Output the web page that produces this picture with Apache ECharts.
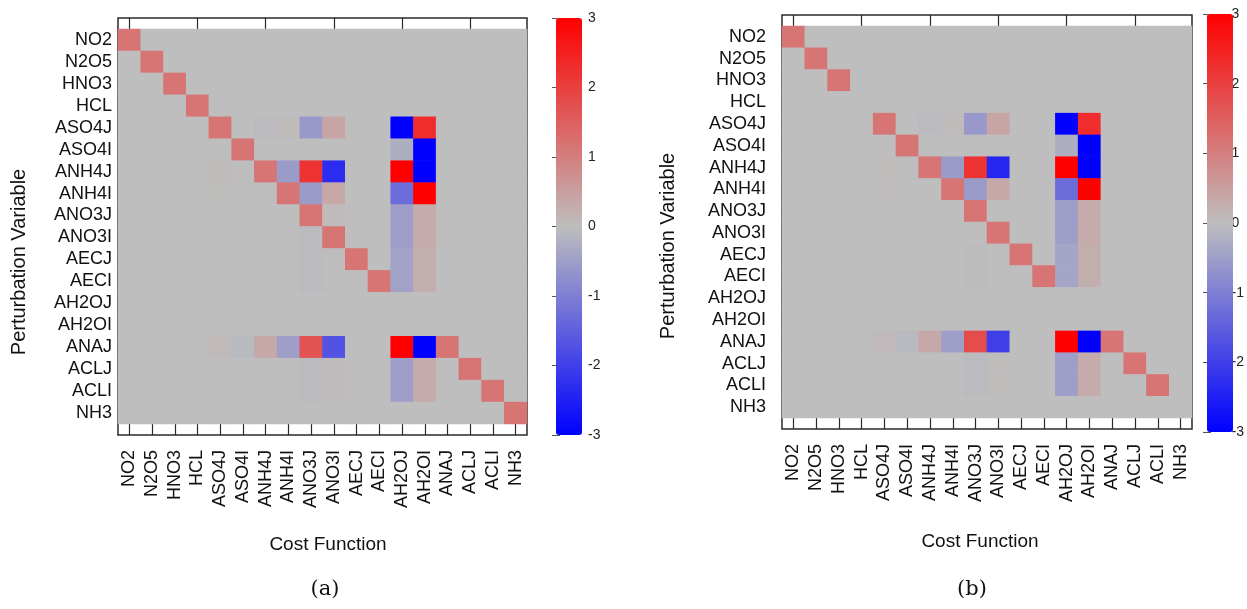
<!DOCTYPE html>
<html><head><meta charset="utf-8">
<script src="https://cdn.jsdelivr.net/npm/echarts@6/dist/echarts.min.js"></script>
<style>html,body{margin:0;padding:0;background:#fff;} #c{width:1247px;height:609px;}</style>
</head><body><div id="c"></div>
<script>
// Cost-function (x) and perturbation-variable (y) species, same list
const species = ['NO2','N2O5','HNO3','HCL','ASO4J','ASO4I','ANH4J','ANH4I','ANO3J','ANO3I','AECJ','AECI','AH2OJ','AH2OI','ANAJ','ACLJ','ACLI','NH3'];
const colorbarTicks = [-3, -2, -1, 0, 1, 2, 3];

// Panel (a): rows = perturbation variable, columns = cost function
const sensitivityA = [
 [1.15,0,0,0,0,0,0,0,0,0,0,0,0,0,0,0,0,0],
 [0,1.15,0,0,0,0,0,0,0,0,0,0,0,0,0,0,0,0],
 [0,0,1.15,0,0,0,0,0,0,0,0,0,0,0,0,0,0,0],
 [0,0,0,1.15,0,0,0,0,0,0,0,0,0,0,0,0,0,0],
 [0,0,0,0,1.15,0,-0.05,0.05,-0.6,0.4,0,0,-3,2.3,0,0,0,0],
 [0,0,0,0,0,1.15,0,0,0,0,0,0,-0.25,-3,0,0,0,0],
 [0,0,0,0,0.04,0.02,1.15,-0.55,2.2,-2.3,0,0,3,-3,0,0,0,0],
 [0,0,0,0,0.03,-0.02,-0.02,1.15,-0.55,0.35,0,0,-1.3,3,0,0,0,0],
 [0,0,0,0,0,0,0,0,1.15,0.04,0,0,-0.5,0.3,0,0,0,0],
 [0,0,0,0,0,0,0,0,-0.04,1.15,0,0,-0.5,0.3,0,0,0,0],
 [0,0,0,0,0,0,0,0,-0.04,0.03,1.15,0,-0.45,0.25,0,0,0,0],
 [0,0,0,0,0,0,0,0,-0.04,0.03,0,1.15,-0.45,0.25,0,0,0,0],
 [0,0,0,0,0,0,0,0,0,0,0,0,0,0,0,0,0,0],
 [0,0,0,0,0,0,0,0,0,0,0,0,0,0,0,0,0,0],
 [0,0,0,0,0.08,-0.08,0.35,-0.5,1.7,-1.7,0,0,3,-3,1.15,0,0,0],
 [0,0,0,0,0,0,0,0,-0.05,0.04,0,0,-0.5,0.3,0,1.15,0,0],
 [0,0,0,0,0,0,0,0,-0.05,0.04,0,0,-0.5,0.3,0,0,1.15,0],
 [0,0,0,0,0,0,0,0,0,0,0,0,0,0,0,0,0,1.15]
];

// Panel (b)
const sensitivityB = [
 [1.15,0,0,0,0,0,0,0,0,0,0,0,0,0,0,0,0,0],
 [0,1.15,0,0,0,0,0,0,0,0,0,0,0,0,0,0,0,0],
 [0,0,1.15,0,0,0,0,0,0,0,0,0,0,0,0,0,0,0],
 [0,0,0,0,0,0,0,0,0,0,0,0,0,0,0,0,0,0],
 [0,0,0,0,1.15,0,-0.05,0.05,-0.6,0.4,0,0,-3,2.3,0,0,0,0],
 [0,0,0,0,0,1.15,0,0,0,0,0,0,-0.25,-3,0,0,0,0],
 [0,0,0,0,0.03,0.02,1.15,-0.55,2.2,-2.4,0,0,3,-3,0,0,0,0],
 [0,0,0,0,0.03,0,0,1.15,-0.55,0.35,0,0,-1.3,3,0,0,0,0],
 [0,0,0,0,0,0,0,0,1.15,0,0,0,-0.5,0.3,0,0,0,0],
 [0,0,0,0,0,0,0,0,0,1.15,0,0,-0.5,0.3,0,0,0,0],
 [0,0,0,0,0,0,0,0,-0.03,0,1.15,0,-0.4,0.25,0,0,0,0],
 [0,0,0,0,0,0,0,0,-0.03,0,0,1.15,-0.4,0.25,0,0,0,0],
 [0,0,0,0,0,0,0,0,0,0,0,0,0,0,0,0,0,0],
 [0,0,0,0,0,0,0,0,0,0,0,0,0,0,0,0,0,0],
 [0,0,0,0,0.08,-0.08,0.35,-0.5,1.8,-2.0,0,0,3,-3,1.15,0,0,0],
 [0,0,0,0,0,0,0,0,-0.05,0.03,0,0,-0.5,0.3,0,1.15,0,0],
 [0,0,0,0,0,0,0,0,-0.05,0.03,0,0,-0.5,0.3,0,0,1.15,0],
 [0,0,0,0,0,0,0,0,0,0,0,0,0,0,0,0,0,0]
];

function toCells(m){
  const out = [];
  m.forEach((row, r) => row.forEach((v, c) => out.push([c, r, v])));
  return out;
}

const FONT = 'Liberation Sans';
const INK = '#2a2a2a';
const cmap = ['#0000ff', '#bebebe', '#ff0000'];

const L = {
  a: {frame:{left:118, top:18, width:409, height:417}, heat:{left:118, top:29, width:409, height:395}, bar:{left:556, top:18, width:26, height:417}, ylabMargin:6},
  b: {frame:{left:782, top:15, width:410, height:414}, heat:{left:782, top:26, width:410, height:392}, bar:{left:1207, top:14, width:26, height:418}, ylabMargin:16}
};

const grid = [], xAxis = [], yAxis = [], series = [], visualMap = [];
['a','b'].forEach((k, p) => {
  const g = L[k];
  const gf = grid.length;
  grid.push(Object.assign({show:true, backgroundColor:'#fff', borderColor:INK, borderWidth:1.5}, g.frame));
  const gh = grid.length;
  grid.push(Object.assign({show:true, backgroundColor:'#bebebe', borderWidth:0}, g.heat));
  const gb = grid.length;
  grid.push(Object.assign({}, g.bar));

  // frame axes (ticks at top and bottom, labels at bottom)
  xAxis.push({gridIndex:gf, type:'category', data:species, position:'bottom',
    axisLine:{show:false}, axisTick:{show:true, inside:true, alignWithLabel:true, length:11, lineStyle:{color:INK, width:1.2}},
    axisLabel:{rotate:90, margin:15, fontFamily:FONT, fontSize:18, color:'#111', interval:0}});
  xAxis.push({gridIndex:gf, type:'category', data:species, position:'top',
    axisLine:{show:false}, axisTick:{show:true, inside:true, alignWithLabel:true, length:11, lineStyle:{color:INK, width:1.2}},
    axisLabel:{show:false}});
  const xh = xAxis.length;
  xAxis.push({gridIndex:gh, type:'category', data:species, show:false});
  xAxis.push({gridIndex:gb, type:'value', show:false, min:0, max:1});

  yAxis.push({gridIndex:gf, type:'value', show:false});
  const yh = yAxis.length;
  yAxis.push({gridIndex:gh, type:'category', data:species, inverse:true,
    axisLine:{show:false}, axisTick:{show:false},
    axisLabel:{margin:g.ylabMargin, fontFamily:FONT, fontSize:18, color:'#111', interval:0}});
  yAxis.push({gridIndex:gb, type:'value', min:colorbarTicks[0], max:colorbarTicks[colorbarTicks.length-1], interval:1, position:'right',
    axisLine:{show:false}, splitLine:{show:false},
    axisTick:{show:true, inside:true, length:4, lineStyle:{color:'#555'}},
    axisLabel:{margin:6, fontFamily:FONT, fontSize:14, color:'#222'}});
  yAxis.push({gridIndex:gb, type:'value', min:colorbarTicks[0], max:colorbarTicks[colorbarTicks.length-1], interval:1, position:'left',
    axisLine:{show:false}, splitLine:{show:false},
    axisTick:{show:true, inside:true, length:4, lineStyle:{color:'#555'}},
    axisLabel:{show:false}});

  series.push({type:'heatmap', xAxisIndex:xh, yAxisIndex:yh, data:toCells(p===0?sensitivityA:sensitivityB),
    itemStyle:{borderWidth:0}, emphasis:{disabled:true}, progressive:0, silent:true, z:3});

  visualMap.push({type:'continuous', seriesIndex:p, min:-3, max:3, calculable:false, padding:0,
    left:g.bar.left, top:g.bar.top, itemWidth:g.bar.width, itemHeight:g.bar.height,
    inRange:{color:cmap}, z:1});
});

const titleStyle = {fontFamily:FONT, fontSize:19, fill:'#111', textAlign:'center', textVerticalAlign:'middle'};
const yTitleStyle = {fontFamily:FONT, fontSize:20, fill:'#111', textAlign:'center', textVerticalAlign:'middle'};
const graphic = [
  {type:'text', x:328, y:545, style:Object.assign({text:'Cost Function'}, titleStyle)},
  {type:'text', x:980, y:542, style:Object.assign({text:'Cost Function'}, titleStyle)},
  {type:'text', x:19, y:262, rotation:Math.PI/2, style:Object.assign({text:'Perturbation Variable'}, yTitleStyle)},
  {type:'text', x:668, y:246, rotation:Math.PI/2, style:Object.assign({text:'Perturbation Variable'}, yTitleStyle)},
  {type:'text', x:325, y:590, style:{text:'(a)', fontFamily:'DejaVu Serif', fontSize:21, fill:'#111', textAlign:'center', textVerticalAlign:'middle'}},
  {type:'text', x:972, y:590, style:{text:'(b)', fontFamily:'DejaVu Serif', fontSize:21, fill:'#111', textAlign:'center', textVerticalAlign:'middle'}}
];

const chart = echarts.init(document.getElementById('c'), null, {renderer:'canvas'});
chart.setOption({animation:false, backgroundColor:'#fff', grid, xAxis, yAxis, series, visualMap, graphic});
</script></body></html>
